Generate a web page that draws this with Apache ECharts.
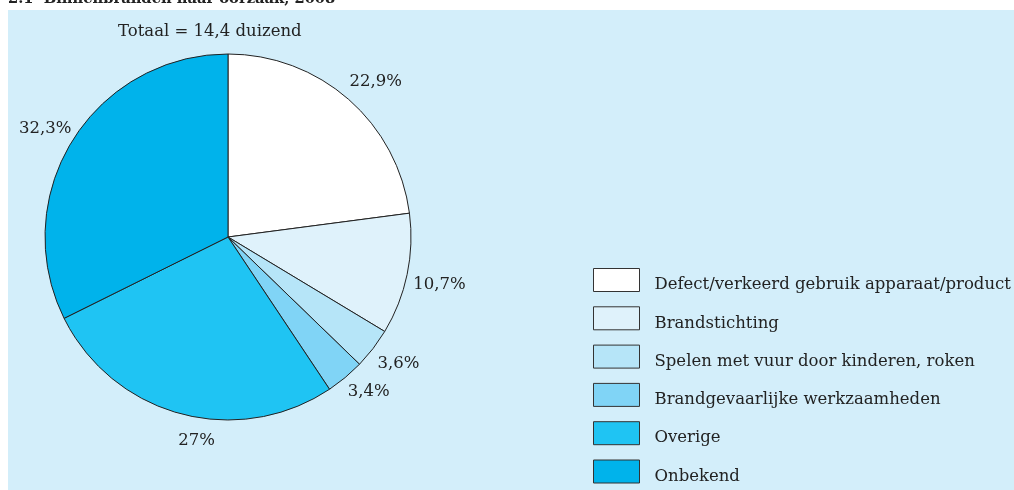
<!DOCTYPE html>
<html lang="nl">
<head>
<meta charset="UTF-8">
<title>Binnenbranden naar oorzaak, 2008</title>
<style>
    html, body { margin: 0; padding: 0; background: #fff; }
    #chart { width: 1014px; height: 490px; }
</style>
</head>
<body>
<div id="chart"></div>
<script src="https://cdn.jsdelivr.net/npm/echarts@6/dist/echarts.min.js"></script>
<script>
    // oorzaken en aandelen (%)
    const causes = [
        'Defect/verkeerd gebruik apparaat/product',
        'Brandstichting',
        'Spelen met vuur door kinderen, roken',
        'Brandgevaarlijke werkzaamheden',
        'Overige',
        'Onbekend'
    ];
    const shares = [22.9, 10.7, 3.6, 3.4, 27, 32.3];
    const colors = ['#ffffff', '#dff2fb', '#b6e5f8', '#80d4f6', '#1fc4f3', '#00b3eb'];

    const font = 'DejaVu Serif';
    const fontSize = 16.5;
    // kleine verschuivingen van de percentage-labels, zoals in het origineel
    const nudge = [[6, 6], [1, 4], [0, -4], [3, -10], [24, -4], [0, 5]];
    let pieData = causes.map((name, i) => ({ name: name, value: shares[i] }));

    let chart = echarts.init(document.getElementById('chart'));
    chart.setOption({
        animation: false,
        color: colors,
        graphic: [
            { type: 'rect', z: -10, shape: { x: 8, y: 10, width: 1006, height: 480 }, style: { fill: '#d3eefa' } },
            { type: 'text', left: 8, top: -8, style: { text: '2.1  Binnenbranden naar oorzaak, 2008', font: 'bold 14.7px "DejaVu Serif"', fill: '#222' } }
        ],
        title: {
            text: 'Totaal = 14,4 duizend',
            left: 118, top: 23, padding: 0,
            textStyle: { fontFamily: font, fontSize: fontSize, fontWeight: 'normal', color: '#222' }
        },
        legend: {
            orient: 'vertical',
            left: 593, top: 268, padding: 0,
            itemWidth: 46, itemHeight: 23, itemGap: 12.8,
            icon: 'rect',
            itemStyle: { borderColor: '#333', borderWidth: 1 },
            formatter: '{t|{name}}',
            textStyle: {
                fontFamily: font, fontSize: fontSize, color: '#222',
                rich: { t: { fontFamily: font, fontSize: fontSize, color: '#222', padding: [10, 0, 0, 10] } }
            },
            data: causes
        },
        series: [
            {
                type: 'pie',
                center: [228, 237],
                radius: 183,
                startAngle: 90,
                clockwise: true,
                silent: true,
                itemStyle: { borderColor: '#222', borderWidth: 1 },
                label: { show: false },
                labelLine: { show: false },
                data: pieData
            },
            {
                // onzichtbare ring om de percentages te plaatsen
                type: 'pie',
                center: [228, 237],
                radius: [200, 224],
                startAngle: 90,
                clockwise: true,
                silent: true,
                legendHoverLink: false,
                itemStyle: { color: 'rgba(0,0,0,0)', borderWidth: 0 },
                label: {
                    show: true,
                    position: 'inside',
                    fontFamily: font, fontSize: fontSize, color: '#222',
                    formatter: p => String(p.value).replace('.', ',') + '%'
                },
                labelLayout: p => ({ dx: nudge[p.dataIndex][0], dy: nudge[p.dataIndex][1] }),
                labelLine: { show: false },
                data: pieData
            }
        ]
    });
</script>
</body>
</html>
